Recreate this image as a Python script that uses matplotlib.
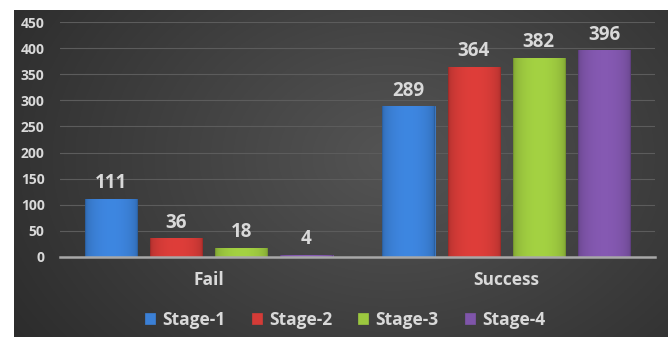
import numpy as np
import matplotlib
matplotlib.use("Agg")
import matplotlib.pyplot as plt
from matplotlib.colors import to_rgb

categories = ["Fail", "Success"]
stages = ["Stage-1", "Stage-2", "Stage-3", "Stage-4"]
values = {
    "Stage-1": [111, 289],
    "Stage-2": [36, 364],
    "Stage-3": [18, 382],
    "Stage-4": [4, 396],
}
colors = ["#3b80d6", "#d43b37", "#9cc83f", "#7f55aa"]
yticks = [0, 50, 100, 150, 200, 250, 300, 350, 400, 450]

plt.rcParams['font.family'] = ['Open Sans', 'DejaVu Sans']
txt = "#d9d9d9"

fig = plt.figure(figsize=(6.72, 3.37), dpi=100, facecolor="white")

# dark panel with a soft gradient
bg = fig.add_axes([14 / 672, 0, 654 / 672, 327 / 337])
yy, xx = np.mgrid[0:1:200j, 0:1:400j]
r = np.sqrt(((xx - 0.58) / 0.75) ** 2 + ((yy - 0.45) / 1.1) ** 2)
shade = np.clip(0.33 - 0.17 * r, 0.15, 0.33)
bg.imshow(np.dstack([shade] * 3), aspect="auto", extent=[0, 1, 0, 1])
bg.set_axis_off()

ax = fig.add_axes([60 / 672, 1 - 257 / 337, 595 / 672, 235 / 337])
ax.set_facecolor("none")
x = np.arange(len(categories))
width = 0.175
pitch = 0.219

for i, (s, c) in enumerate(zip(stages, colors)):
    off = (i - 1.5) * pitch
    bars = ax.bar(x + off, values[s], width, color=c, edgecolor=c, linewidth=0.5, zorder=3, label=s)
    base = np.array(to_rgb(c))
    # horizontal bevel shading inside each bar
    t = np.linspace(0, 1, 50)
    f = 0.75 + 0.3 * np.sin(np.pi * t) ** 0.35
    grad = np.clip(base[None, None, :] * f[None, :, None], 0, 1)
    for b in bars:
        x0, y0 = b.get_x(), b.get_y()
        w, h = b.get_width(), b.get_height()
        im = ax.imshow(grad, aspect="auto", extent=[x0, x0 + w, y0, y0 + h], zorder=4)
        im.set_clip_path(b)
        ax.annotate(str(int(h)), (x0 + w / 2, h), xytext=(0, 4), textcoords="offset points",
                    ha="center", va="bottom", color=txt, fontsize=13.5, fontweight="bold", zorder=5)

ax.set_xlim(-0.5, 1.5)
ax.set_ylim(0, 450)
ax.set_yticks(yticks)
ax.set_xticks(x)
ax.set_xticklabels(categories, fontweight="bold")
ax.set_yticklabels([str(v) for v in yticks], fontweight="bold")
ax.tick_params(axis="y", length=0, pad=11, labelsize=10, labelcolor=txt)
ax.tick_params(axis="x", length=0, pad=10, labelsize=12.5, labelcolor=txt)
ax.grid(axis="y", color="#5c5c5c", linewidth=0.8, zorder=0)
for sp in ["top", "right", "left"]:
    ax.spines[sp].set_visible(False)
ax.spines["bottom"].set_color("#a8a8a8")
ax.spines["bottom"].set_linewidth(1.8)
ax.spines["bottom"].set_zorder(6)

leg = fig.legend(loc="center", bbox_to_anchor=(345 / 672, 1 - 320 / 337), ncol=4, frameon=False,
                 handlelength=0.6, handleheight=0.6, handletextpad=0.4, columnspacing=1.5,
                 prop={"weight": "bold", "size": 12.5})
for t in leg.get_texts():
    t.set_color(txt)

fig.savefig("out.png", dpi=100, facecolor="white")
